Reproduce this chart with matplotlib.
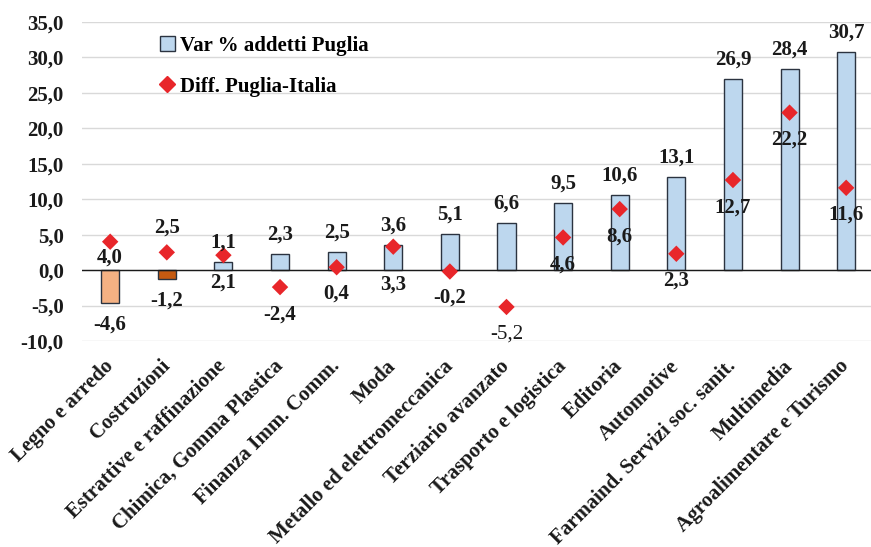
import numpy as np
import matplotlib.pyplot as plt
from matplotlib.patches import Patch
from matplotlib.lines import Line2D
from matplotlib.ticker import FuncFormatter

# --- Data ---
categories = ["Legno e arredo", "Costruzioni", "Estrattive e raffinazione",
              "Chimica, Gomma Plastica", "Finanza Imm. Comm.", "Moda",
              "Metallo ed elettromeccanica", "Terziario avanzato",
              "Trasporto e logistica", "Editoria", "Automotive",
              "Farmaind. Servizi soc. sanit.", "Multimedia",
              "Agroalimentare e Turismo"]
var_puglia = [-4.6, -1.2, 1.1, 2.3, 2.5, 3.6, 5.1, 6.6, 9.5, 10.6, 13.1, 26.9, 28.4, 30.7]
diff_puglia_italia = [4.0, 2.5, 2.1, -2.4, 0.4, 3.3, -0.2, -5.2, 4.6, 8.6, 2.3, 12.7, 22.2, 11.6]

# label offsets (points) for the diamond labels
diff_offsets = [-11.5, 18, -19.5, -19.5, -19, -27, -18.5, -19.5, -19.5, -19.5, -19.5, -19.5, -19.5, -19.5]

plt.rcParams['font.family'] = ['Liberation Serif', 'DejaVu Serif']
plt.rcParams['font.weight'] = 'bold'

fig = plt.figure(figsize=(8.71, 5.47), dpi=100)
ax = fig.add_axes([0.094, 0.3766, 0.91, 0.5834])

x = np.arange(len(categories))
colors = ['#F4B183', '#C55A11'] + ['#BDD7EE'] * (len(categories) - 2)
ax.bar(x, var_puglia, width=0.32, color=colors, edgecolor='#2B3340',
       linewidth=1.0, zorder=2)
ax.scatter(x, diff_puglia_italia, marker='D', s=70, color='#E8262A',
           edgecolor='none', zorder=4)

txt_color = '#1A1A1A'
for xi, v in zip(x, var_puglia):
    off = 14 if v >= 0 else -16
    ax.annotate(f"{v:.1f}".replace('.', ','), (xi, v), xytext=(0, off),
                textcoords='offset points', ha='center', va='center',
                fontsize=15, fontweight='bold', color=txt_color, zorder=5)
for xi, v, off in zip(x, diff_puglia_italia, diff_offsets):
    w = 'normal' if v == -5.2 else 'bold'
    ax.annotate(f"{v:.1f}".replace('.', ','), (xi, v), xytext=(0, off),
                textcoords='offset points', ha='center', va='center',
                fontsize=15, fontweight=w, color=txt_color, zorder=5)

ax.set_xlim(-0.5, len(categories) - 0.5)
ax.set_ylim(-10, 35)
ax.set_yticks(np.arange(-10, 36, 5))
ax.yaxis.set_major_formatter(FuncFormatter(lambda v, p: f"{v:.1f}".replace('.', ',')))
ax.grid(axis='y', color='#D9D9D9', linewidth=1.0, zorder=0)
ax.axhline(0, color='#1A1A1A', linewidth=1.0, zorder=3)
for s in ax.spines.values():
    s.set_visible(False)
ax.tick_params(axis='both', length=0, labelsize=15, colors=txt_color)
ax.tick_params(axis='y', pad=13)
ax.set_xticks(x)
ax.set_xticklabels(categories, rotation=45, ha='right', va='center',
                   rotation_mode='anchor', fontsize=15)
ax.tick_params(axis='x', pad=16)

handles = [Patch(facecolor='#BDD7EE', edgecolor='#2B3340', linewidth=1.0),
           Line2D([], [], marker='D', linestyle='none', markersize=8,
                  color='#E8262A')]
ax.legend(handles, ["Var % addetti Puglia", "Diff. Puglia-Italia"],
          loc='upper left', bbox_to_anchor=(0.075, 1.015), frameon=False,
          fontsize=15, handlelength=0.7, handleheight=0.7, handletextpad=0.25,
          labelspacing=1.0)

fig.savefig("out.png", dpi=100)
